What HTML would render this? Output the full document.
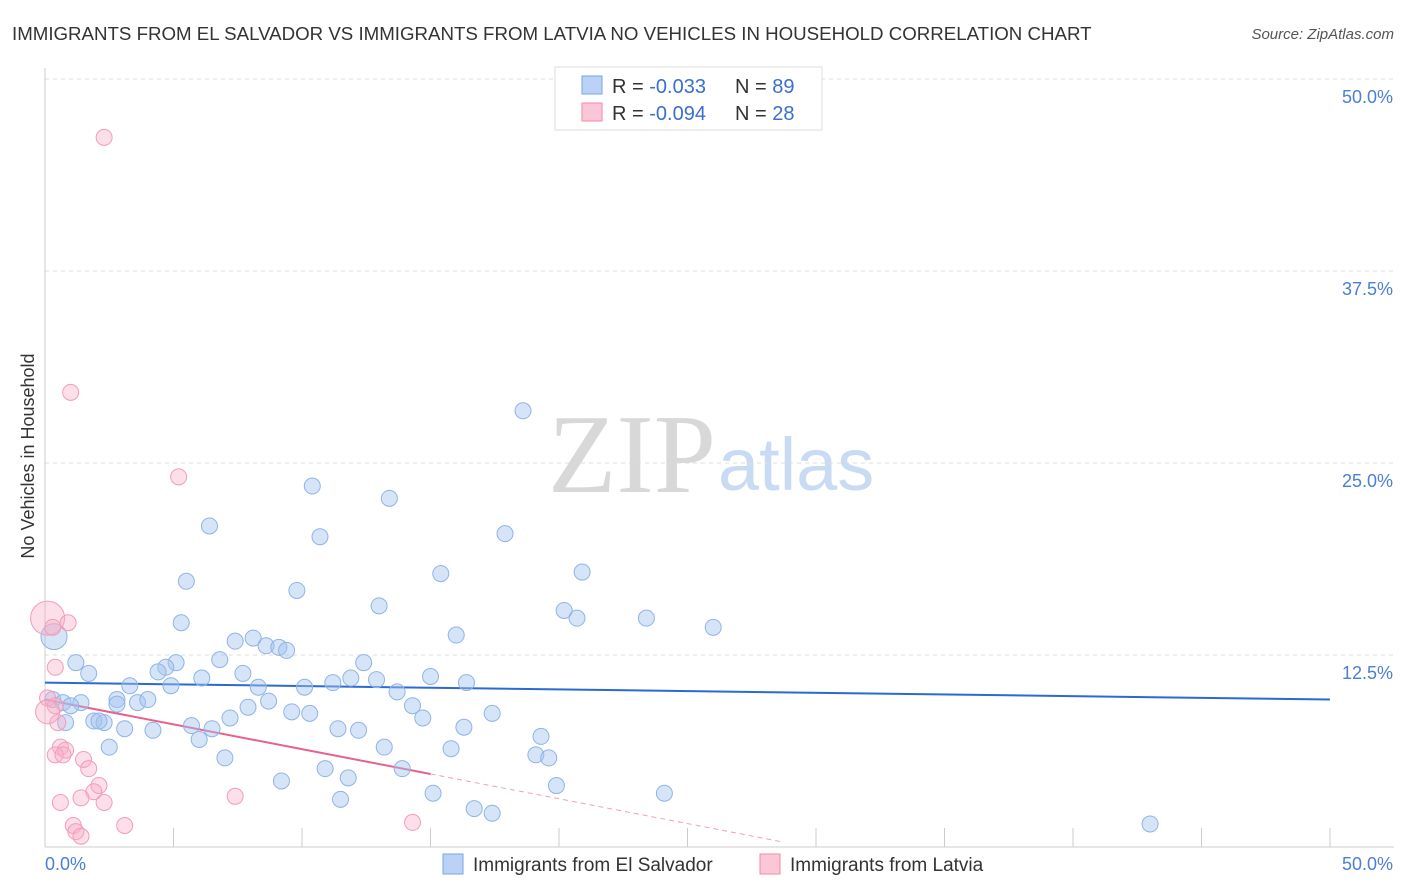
<!DOCTYPE html>
<html><head><meta charset="utf-8">
<style>
body{margin:0;background:#fff;font-family:"Liberation Sans",sans-serif;}
#wrap{position:relative;width:1406px;height:892px;overflow:hidden;}
svg{position:absolute;left:0;top:0;}
</style></head>
<body>
<div id="wrap">
<svg id="chart" width="1406" height="892">
  <text x="12" y="40" font-size="18.7" fill="#333">IMMIGRANTS FROM EL SALVADOR VS IMMIGRANTS FROM LATVIA NO VEHICLES IN HOUSEHOLD CORRELATION CHART</text>
  <text x="1394" y="39" font-size="15" fill="#555" font-style="italic" text-anchor="end">Source: ZipAtlas.com</text>
  <text x="716" y="492" font-size="112" fill="#d8d8d8" text-anchor="end" font-family="Liberation Serif,serif">ZIP</text>
  <text x="718" y="490" font-size="74" fill="#c9daf3">atlas</text>
  <text transform="translate(34,456) rotate(-90)" font-size="18" fill="#333" text-anchor="middle">No Vehicles in Household</text>
  <g id="grid"></g><g id="axes"></g><g id="trends"></g><g id="pts"></g>
  <g>
    <rect x="555" y="67" width="267" height="63" fill="#fff" stroke="#ddd"/>
    <rect x="582" y="76" width="20" height="18" fill="#b9d2f5" stroke="#7aa6e0"/>
    <rect x="582" y="103" width="20" height="18" fill="#fbc6d5" stroke="#f08aaa"/>
    <text x="612" y="93" font-size="20" fill="#333">R = <tspan fill="#3a6fd0">-0.033</tspan><tspan x="735">N = </tspan><tspan fill="#3a6fd0">89</tspan></text>
    <text x="612" y="120" font-size="20" fill="#333">R = <tspan fill="#3a6fd0">-0.094</tspan><tspan x="735">N = </tspan><tspan fill="#3a6fd0">28</tspan></text>
  </g>
  <g>
    <rect x="443" y="854" width="20" height="20" fill="#b9d2f5" stroke="#7aa6e0"/>
    <text x="473" y="871" font-size="19" fill="#333">Immigrants from El Salvador</text>
    <rect x="760" y="854" width="20" height="20" fill="#fbc6d5" stroke="#f08aaa"/>
    <text x="790" y="871" font-size="19" fill="#333">Immigrants from Latvia</text>
  </g>
</svg>
</div>
<script>
const blueX=[18.6,10.4,13.4,6.4,10.7,17.9,5.5,15.4,20.9,9.8,13.0,20.2,20.7,23.4,5.3,26.0,16.0,7.4,8.1,8.6,9.1,9.4,0.35,1.2,1.7,5.1,4.7,4.4,6.8,7.7,12.4,15.0,6.1,11.9,12.9,11.2,4.9,3.3,8.3,10.1,16.4,13.7,0.3,0.7,1.4,1.0,2.8,3.6,4.0,2.8,8.7,7.9,14.3,9.6,10.3,7.2,14.7,17.4,1.9,2.3,2.1,0.8,3.1,4.2,5.7,6.5,11.4,12.2,16.3,19.3,6.0,2.5,13.2,15.8,19.1,19.6,7.0,13.9,10.9,11.8,9.2,19.9,15.1,24.1,11.5,16.7,17.4,43.0];
const blueY=[28.4,23.5,22.7,20.9,20.2,20.4,17.3,17.8,17.9,16.7,15.7,15.4,14.9,14.9,14.6,14.3,13.8,13.4,13.6,13.1,13.0,12.8,13.7,12.0,11.3,12.0,11.7,11.4,12.2,11.3,12.0,11.1,11.0,11.0,10.9,10.7,10.5,10.5,10.4,10.4,10.7,10.1,9.6,9.4,9.4,9.2,9.6,9.4,9.6,9.3,9.5,9.1,9.2,8.8,8.7,8.4,8.4,8.7,8.2,8.1,8.2,8.1,7.7,7.6,7.9,7.7,7.7,7.6,7.8,7.2,7.0,6.5,6.5,6.4,6.0,5.8,5.8,5.1,5.1,4.5,4.3,4.0,3.5,3.5,3.1,2.5,2.2,1.5];
const pinkX=[2.3,1.0,5.2,0.1,0.3,0.9,0.4,0.1,0.4,0.5,0.6,0.8,0.4,0.7,1.5,1.7,2.1,1.9,0.6,1.4,2.3,7.4,1.1,3.1,1.2,1.4,14.3,0.1];
const pinkY=[46.2,29.6,24.1,14.9,14.3,14.6,11.7,9.7,9.2,8.1,6.5,6.3,6.0,6.0,5.7,5.1,4.0,3.6,2.9,3.2,2.9,3.3,1.4,1.4,1.0,0.7,1.6,8.8];
const xTicks=[0,50];
const yTicks=[12.5,25.0,37.5,50.0];
const blueTrend=[10.7,9.6];      // y at x=0 and x=50
const pinkTrend=[9.6,-0.323];    // intercept, slope
const pinkSolidEnd=15, pinkDashEnd=28.6;

const X=v=>45+v*25.7, Y=v=>847-v*15.36;
const NS="http://www.w3.org/2000/svg";
function mk(tag,parent,attrs){const e=document.createElementNS(NS,tag);for(const k in attrs)e.setAttribute(k,attrs[k]);parent.appendChild(e);return e;}
const grid=document.getElementById('grid'),axes=document.getElementById('axes'),trends=document.getElementById('trends'),pts=document.getElementById('pts');
yTicks.forEach(t=>{
  const l=mk('line',grid,{x1:45,x2:1394,y1:Y(t),y2:Y(t),stroke:'#ddd','stroke-dasharray':'4,4'});
  
  
  const tx=mk('text',grid,{x:1393,y:Y(t)+24,'font-size':18,fill:'#4a7fd4','text-anchor':'end'});
  tx.textContent=t.toFixed(1)+'%';
  
  
});
mk('line',axes,{x1:45,x2:45,y1:68,y2:847,stroke:'#ccc'});
mk('line',axes,{x1:45,x2:1394,y1:847,y2:847,stroke:'#ccc'});
for(let i=0;i<=10;i++){const l=mk('line',axes,{x1:X(i*5),x2:X(i*5),y1:828,y2:847,stroke:'#ccc'});
  
  }
xTicks.forEach((t,i)=>{const tx=mk('text',axes,{x:i?1393:45,y:870,'font-size':18,fill:'#4a7fd4','text-anchor':i?'end':'start'});
  tx.textContent=t.toFixed(1)+'%';
  
  });
function dot(x,y,r,fill,stroke,name){const c=mk('circle',pts,{cx:X(x),cy:Y(y),r:r,fill:fill,stroke:stroke,'stroke-width':1});
  
  }
blueX.forEach((x,i)=>dot(x,blueY[i],i==22?13:8,'rgba(164,196,240,0.45)','#8fb4e6','point-el-salvador'));
pinkX.forEach((x,i)=>dot(x,pinkY[i],i==3?17:(i==27?12:8),'rgba(248,176,198,0.4)','#f29cb8','point-latvia'));
const bl=mk('line',trends,{x1:X(0),y1:Y(blueTrend[0]),x2:X(50),y2:Y(blueTrend[1]),stroke:'#2a6ad4','stroke-width':2});


const pl=mk('line',trends,{x1:X(0),y1:Y(pinkTrend[0]),x2:X(pinkSolidEnd),y2:Y(pinkTrend[0]+pinkTrend[1]*pinkSolidEnd),stroke:'#e8608d','stroke-width':2});


const pd=mk('line',trends,{x1:X(pinkSolidEnd),y1:Y(pinkTrend[0]+pinkTrend[1]*pinkSolidEnd),x2:X(pinkDashEnd),y2:Y(pinkTrend[0]+pinkTrend[1]*pinkDashEnd),stroke:'#f0a0bb','stroke-width':1,'stroke-dasharray':'5,4'});


</script>
</body></html>
